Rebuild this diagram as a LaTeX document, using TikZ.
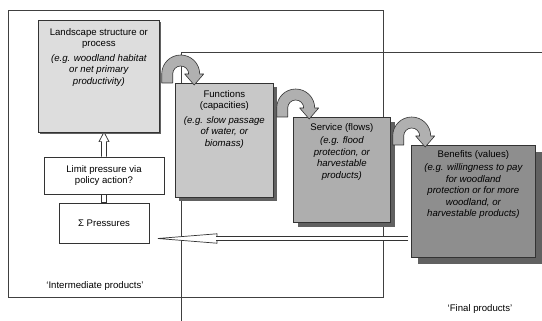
\documentclass[tikz,border=0pt]{standalone}
\usepackage{fontspec}
\setmainfont{Liberation Sans}
\usetikzlibrary{arrows.meta,shadows,calc}
\definecolor{landgray}{RGB}{221,221,221}
\definecolor{funcgray}{RGB}{200,200,200}
\definecolor{servgray}{RGB}{174,174,174}
\definecolor{benegray}{RGB}{142,142,142}
\definecolor{curlgray}{RGB}{176,176,176}
\newcommand{\boxtext}[4]{\parbox[c][#2][t]{#1}{\centering\rule{0pt}{#3}#4}}

\begin{document}
\begin{tikzpicture}[x=1pt,y=-1pt]

\tikzset{box/.style = {draw=black!80, line width=0.7pt, inner sep=0pt, anchor=north west, font=\fontsize{9.6}{11.5}\selectfont}}
\tikzset{plain/.style = {box, fill=white, align=center, anchor=center}}
\tikzset{shadowed/.style = {drop shadow={shadow xshift=#1, shadow yshift=-#1, fill=black!62, opacity=1}}}
\tikzset{frame/.style = {draw=black!75, line width=0.6pt}}
\tikzset{note/.style = {font=\fontsize{9.6}{11.5}\selectfont}}
\tikzset{block/.style = {draw=black!80, line width=0.7pt, fill=white, line join=miter}}
\tikzset{hollow/.style = {draw=black!80, line width=0.7pt, double=white, double distance=3.6pt}}
\tikzset{hollowhead/.style = {draw=black!80, line width=0.7pt, -{Triangle[length=#1, width=10pt, fill=white]}}}
\tikzset{curl/.pic = {\draw[fill=curlgray, draw=black!80, line width=0.6pt, line join=round]
  (0,0) -- (0,-9) arc[start angle=180, end angle=360, radius=19] -- (42,-9) -- (32.5,2)
  -- (23,-9) -- (27,-9) arc[start angle=360, end angle=180, radius=8] -- (11,0) -- cycle;}}

\useasboundingbox (0,0) rectangle (542,321);

\node[plain, minimum width=120pt, minimum height=37pt] (limit) at (104,175.5) {Limit pressure via\\ policy action?};
\node[plain, minimum width=90pt, minimum height=40pt] (pres) at (104,223) {Σ Pressures};
\coordinate (back) at (0,238.5);

%hollow arrows
\draw[block] ([xshift=-2.5pt]pres.north) rectangle ([xshift=2.5pt]limit.south);
\draw[block] ([xshift=-2.5pt]limit.north) -- ++(0,-15) -- ++(-2.5,0) -- ++(5,-9.5)
  -- ++(5,9.5) -- ++(-2.5,0) -- ++(0,15);

%frames
\draw[frame] (8,10) rectangle (383,297);
\draw[frame] (181,321) -- (181,52) -- (542,52);

\node[box, fill=landgray, shadowed=1.5pt] (land) at (38,20) {\boxtext{121pt}{112pt}{15pt}{Landscape structure or\\ process\\[3pt] {\itshape (e.g. woodland habitat\\ or net primary\\ productivity)}}};
\node[box, fill=funcgray, shadowed=4pt] (func) at (175,83) {\boxtext{98pt}{114pt}{14pt}{Functions\\ (capacities)\\[3pt] {\itshape (e.g. slow passage\\ of water, or\\ biomass)}}};
\node[box, fill=servgray, shadowed=5pt] (serv) at (293,117) {\boxtext{97pt}{105pt}{13pt}{Service (flows)\\[2pt] {\itshape (e.g. flood\\ protection, or\\ harvestable\\ products)}}};
\node[box, fill=benegray, shadowed=7pt] (bene) at (411,145) {\boxtext{124pt}{112pt}{12pt}{Benefits (values)\\[2pt] {\itshape (e.g. willingness to pay\\ for woodland\\ protection or for more\\ woodland, or\\ harvestable products)}}};

%return arrow
\draw[hollowhead=64pt, shorten <=3pt, shorten >=4pt] (bene.west |- back) -- (pres.east |- back);
\draw[hollow, shorten <=3pt, shorten >=67pt] (bene.west |- back) -- (pres.east |- back);

%curved arrows
\pic at ($(land.east |- func.north)+(2,0)$) {curl};
\pic at ($(func.east |- serv.north)+(3,0)$) {curl};
\pic at ($(serv.east |- bene.north)+(2,0)$) {curl};

\node[note] (inter) at (95,286) {`Intermediate products'};
\node[note] (final) at (480,309) {`Final products'};
\end{tikzpicture}
\end{document}
